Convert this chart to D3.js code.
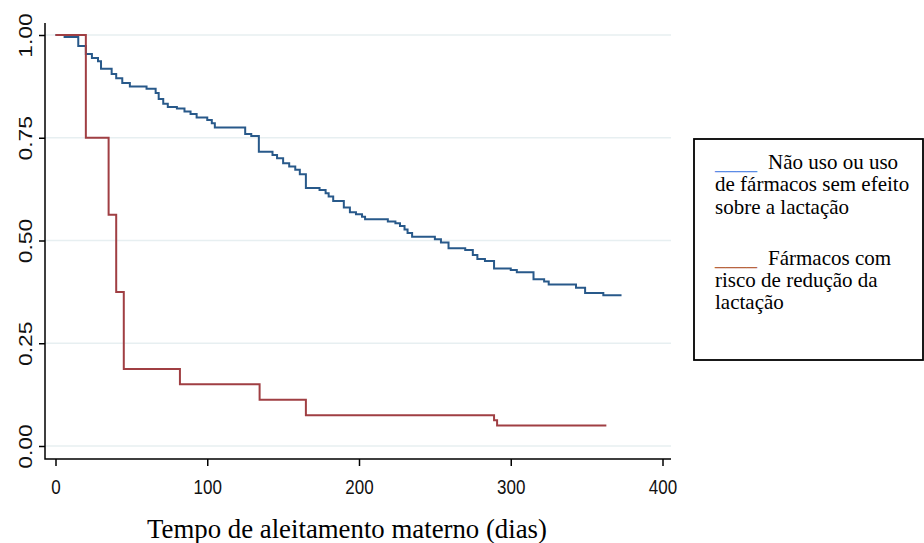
<!DOCTYPE html>
<html>
<head>
<meta charset="utf-8">
<script src="https://cdn.jsdelivr.net/npm/d3@7"></script>
<style>
  html, body { margin: 0; padding: 0; background: #ffffff; }
  svg { display: block; }
</style>
</head>
<body>
<script>
// Kaplan-Meier steps.
const blueTimes = [0, 6, 15, 20, 24, 28, 30, 37, 40, 44, 49, 60, 66, 68, 71, 74, 80, 85, 89, 93,
  100, 103, 105, 125, 129, 134, 143, 146, 150, 154, 158, 161, 165, 174, 178, 180, 183, 190, 194, 198,
  202, 204, 219, 224, 227, 230, 232, 235, 250, 254, 259, 270, 275, 278, 283, 289, 300, 304, 315, 322,
  325, 343, 349, 361, 373];
const blueSurv = [1, 0.995, 0.973, 0.954, 0.944, 0.936, 0.918, 0.905, 0.895, 0.883, 0.875, 0.869, 0.859, 0.844, 0.833, 0.825, 0.821, 0.814, 0.808, 0.799,
  0.793, 0.785, 0.775, 0.759, 0.754, 0.716, 0.708, 0.700, 0.688, 0.680, 0.672, 0.661, 0.628, 0.623, 0.615, 0.607, 0.596, 0.580, 0.569, 0.564,
  0.558, 0.552, 0.546, 0.542, 0.535, 0.527, 0.518, 0.509, 0.503, 0.495, 0.481, 0.477, 0.465, 0.455, 0.450, 0.432, 0.428, 0.423, 0.406, 0.400,
  0.393, 0.385, 0.372, 0.367, 0.367];
const redTimes = [0, 20, 35, 40, 45, 82, 134.5, 165, 289, 291, 363];
const redSurv = [1, 0.75, 0.5625, 0.375, 0.1875, 0.15, 0.1125, 0.075, 0.0625, 0.05, 0.05];

const xTicks = [0, 100, 200, 300, 400];
const yTicks = [0, 0.25, 0.5, 0.75, 1];
const xTitle = 'Tempo de aleitamento materno (dias)';
const legendBlue = ['Não uso ou uso', 'de fármacos sem efeito', 'sobre a lactação'];
const legendRed = ['Fármacos com', 'risco de redução da', 'lactação'];

// Dimensions.
const pallette = {height: 543, width: 924};
const frame = {top: 23, right: 671, bottom: 459, left: 45};
const colors = {blue: '#28598a', red: '#a03f43', grid: '#e7eff1', legendBlue: '#5a8ce6', legendRed: '#b8653f'};
const serif = '"Times New Roman", "Liberation Serif", serif';
const sans = 'Arial, "Liberation Sans", sans-serif';

// Scales.
const xScale = d3.scaleLinear().domain([0, 400]).range([55.5, 662.5]);
const yScale = d3.scaleLinear().domain([0, 1]).range([446, 35]);

const svg = d3.select('body')
  .append('svg')
  .attr('width', pallette.width)
  .attr('height', pallette.height);

// Gridlines.
svg.append('g')
  .selectAll('line')
  .data(yTicks)
  .enter()
  .append('line')
  .attr('x1', frame.left)
  .attr('x2', frame.right)
  .attr('y1', (d) => yScale(d))
  .attr('y2', (d) => yScale(d))
  .style('stroke', colors.grid)
  .style('stroke-width', 1.5);

// Axes.
const xAxis = d3.axisBottom(xScale).tickValues(xTicks).tickSize(7).tickFormat(d3.format('d'));
const yAxis = d3.axisLeft(yScale).tickValues(yTicks).tickSize(6).tickFormat(d3.format('.2f'));

const gx = svg.append('g')
  .attr('transform', 'translate(0,' + frame.bottom + ')')
  .call(xAxis);
gx.select('.domain').remove();
gx.selectAll('line').style('stroke', '#000').style('stroke-width', 1.5);
gx.selectAll('text')
  .attr('y', null)
  .attr('dy', null)
  .attr('transform', 'translate(0,35) scale(1,1.2)')
  .style('font-family', sans)
  .style('font-size', '17px')
  .style('fill', '#111');

const gy = svg.append('g')
  .attr('transform', 'translate(' + frame.left + ',0)')
  .call(yAxis);
gy.select('.domain').remove();
gy.selectAll('line').style('stroke', '#000').style('stroke-width', 1.5);
gy.selectAll('text')
  .attr('x', null)
  .attr('dy', null)
  .attr('text-anchor', 'middle')
  .attr('transform', 'translate(-13,0) rotate(-90) scale(1.2,1)')
  .style('font-family', sans)
  .style('font-size', '19px')
  .style('fill', '#111');

svg.append('path')
  .attr('d', 'M' + frame.left + ',' + frame.top + 'V' + frame.bottom + 'H' + frame.right)
  .style('fill', 'none')
  .style('stroke', '#000')
  .style('stroke-width', 1.5);

// Survival curves.
const line = d3.line()
  .x((d) => xScale(d[0]))
  .y((d) => yScale(d[1]))
  .curve(d3.curveStepAfter);

svg.append('path')
  .attr('d', line(d3.zip(blueTimes, blueSurv)))
  .style('fill', 'none')
  .style('stroke', colors.blue)
  .style('stroke-width', 2);

svg.append('path')
  .attr('d', line(d3.zip(redTimes, redSurv)))
  .style('fill', 'none')
  .style('stroke', colors.red)
  .style('stroke-width', 2);

// X title.
svg.append('text')
  .attr('x', 347)
  .attr('y', 538)
  .attr('text-anchor', 'middle')
  .style('font-family', serif)
  .style('font-size', '26.8px')
  .text(xTitle);

// Legend.
const legend = svg.append('g');
legend.append('rect')
  .attr('x', 694)
  .attr('y', 139)
  .attr('width', 229)
  .attr('height', 221)
  .style('fill', '#fff')
  .style('stroke', '#000')
  .style('stroke-width', 1.8);

const entries = [
  {lines: legendBlue, color: colors.legendBlue, y: 169},
  {lines: legendRed, color: colors.legendRed, y: 264.5}
];
entries.forEach((e) =>
  {
    legend.append('text')
      .attr('x', 715)
      .attr('y', e.y)
      .style('font-family', serif)
      .style('font-size', '21px')
      .style('fill', e.color)
      .text('____');
    e.lines.forEach((t, i) =>
      {
        legend.append('text')
          .attr('x', i === 0 ? 768 : 715)
          .attr('y', e.y + i * 22.3)
          .style('font-family', serif)
          .style('font-size', '21px')
          .style('fill', '#000')
          .text(t);
      });
  });
</script>
</body>
</html>
